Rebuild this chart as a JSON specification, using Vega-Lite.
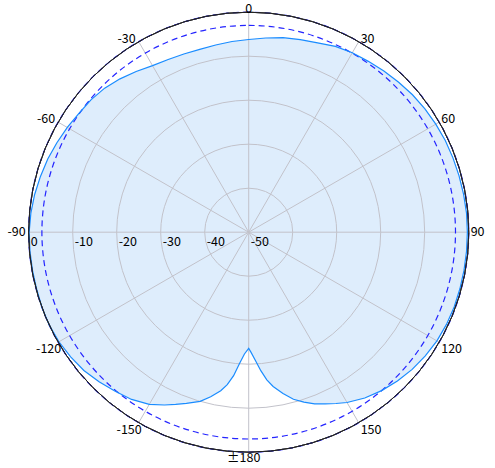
{
  "$schema": "https://vega.github.io/schema/vega-lite/v6.json",
  "width": 440,
  "height": 440,
  "autosize": "none",
  "padding": {"left": 28.7, "top": 12.2, "right": 26, "bottom": 16},
  "background": "white",
  "config": {
    "view": {"stroke": null},
    "text": {"font": "Noto Sans CJK JP", "fontSize": 12.5, "color": "#000000"}
  },
  "datasets": {
    "pattern": [
      {"a": -180, "g": -23.6}, {"a": -178, "g": -22.3}, {"a": -176, "g": -20.1},
      {"a": -174, "g": -17.2}, {"a": -172, "g": -15.0}, {"a": -170, "g": -13.4},
      {"a": -167, "g": -11.6}, {"a": -164, "g": -10.0}, {"a": -160, "g": -8.6},
      {"a": -157, "g": -7.5}, {"a": -154, "g": -6.3}, {"a": -150, "g": -4.8},
      {"a": -145, "g": -3.6}, {"a": -140, "g": -2.8}, {"a": -135, "g": -1.9},
      {"a": -130, "g": -1.1}, {"a": -125, "g": -0.6}, {"a": -120, "g": -0.2},
      {"a": -115, "g": 0.0}, {"a": -110, "g": 0.0}, {"a": -105, "g": -0.1},
      {"a": -100, "g": -0.1}, {"a": -95, "g": -0.1}, {"a": -90, "g": -0.1},
      {"a": -85, "g": -0.3}, {"a": -80, "g": -0.6}, {"a": -75, "g": -1.0},
      {"a": -70, "g": -1.4}, {"a": -65, "g": -1.9}, {"a": -60, "g": -2.4},
      {"a": -55, "g": -2.9}, {"a": -50, "g": -3.2}, {"a": -45, "g": -3.7},
      {"a": -40, "g": -4.5}, {"a": -35, "g": -5.4}, {"a": -30, "g": -6.3},
      {"a": -25, "g": -6.7}, {"a": -20, "g": -6.9}, {"a": -15, "g": -7.0},
      {"a": -10, "g": -6.8}, {"a": -5, "g": -6.5}, {"a": 0, "g": -6.2},
      {"a": 5, "g": -5.7}, {"a": 10, "g": -5.1}, {"a": 15, "g": -4.7},
      {"a": 20, "g": -4.2}, {"a": 25, "g": -3.4}, {"a": 30, "g": -2.9},
      {"a": 35, "g": -2.6}, {"a": 40, "g": -2.2}, {"a": 45, "g": -1.8},
      {"a": 50, "g": -1.4}, {"a": 55, "g": -1.1}, {"a": 60, "g": -0.9},
      {"a": 65, "g": -0.7}, {"a": 70, "g": -0.6}, {"a": 75, "g": -0.5},
      {"a": 80, "g": -0.4}, {"a": 85, "g": -0.3}, {"a": 90, "g": -0.3},
      {"a": 95, "g": -0.3}, {"a": 100, "g": -0.3}, {"a": 105, "g": -0.3},
      {"a": 110, "g": -0.3}, {"a": 115, "g": -0.4}, {"a": 120, "g": -0.6},
      {"a": 125, "g": -1.0}, {"a": 130, "g": -1.5}, {"a": 135, "g": -2.2},
      {"a": 140, "g": -3.0}, {"a": 145, "g": -4.0}, {"a": 150, "g": -5.3},
      {"a": 153, "g": -6.3}, {"a": 156, "g": -7.3}, {"a": 159, "g": -8.2},
      {"a": 162, "g": -9.4}, {"a": 165, "g": -10.7}, {"a": 168, "g": -12.5},
      {"a": 171, "g": -14.5}, {"a": 173, "g": -16.2}, {"a": 175, "g": -18.4},
      {"a": 177, "g": -20.8}, {"a": 179, "g": -22.8}
    ],
    "angles": [
      {"a": 0, "t": "0"}, {"a": 30, "t": "30"}, {"a": 60, "t": "60"},
      {"a": 90, "t": "90"}, {"a": 120, "t": "120"}, {"a": 150, "t": "150"},
      {"a": 180, "t": "±180"}, {"a": -150, "t": "-150"}, {"a": -120, "t": "-120"},
      {"a": -90, "t": "-90"}, {"a": -60, "t": "-60"}, {"a": -30, "t": "-30"}
    ]
  },
  "layer": [
    {
      "data": {"name": "pattern"},
      "transform": [
        {"calculate": "(datum.g + 50) * sin(datum.a * PI / 180)", "as": "px"},
        {"calculate": "(datum.g + 50) * cos(datum.a * PI / 180)", "as": "py"}
      ],
      "mark": {"type": "line", "interpolate": "linear-closed", "fill": "#deedfc", "strokeWidth": 0},
      "encoding": {
        "x": {"field": "px", "type": "quantitative", "scale": {"domain": [-50, 50]}, "axis": null},
        "y": {"field": "py", "type": "quantitative", "scale": {"domain": [-50, 50]}, "axis": null},
        "order": {"field": "a", "type": "quantitative"}
      }
    },
    {
      "data": {"values": [{"v": -40}, {"v": -30}, {"v": -20}, {"v": -10}]},
      "mark": {"type": "arc", "theta": 6.2832, "filled": false, "color": "#c2c2ca", "stroke": "#c2c2ca", "strokeWidth": 1},
      "encoding": {
        "radius": {"field": "v", "type": "quantitative", "stack": null, "scale": {"type": "linear", "domain": [-50, 0], "range": [0, 220], "zero": false}}
      }
    },
    {
      "data": {"values": [{"a": 0}, {"a": 30}, {"a": 60}, {"a": 90}, {"a": 120}, {"a": 150}]},
      "transform": [
        {"calculate": "50 * sin(datum.a * PI / 180)", "as": "sx"},
        {"calculate": "50 * cos(datum.a * PI / 180)", "as": "sy"},
        {"calculate": "-datum.sx", "as": "nx"},
        {"calculate": "-datum.sy", "as": "ny"}
      ],
      "mark": {"type": "rule", "stroke": "#c2c2ca", "strokeWidth": 1},
      "encoding": {
        "x": {"field": "nx", "type": "quantitative", "scale": {"domain": [-50, 50]}, "axis": null},
        "y": {"field": "ny", "type": "quantitative", "scale": {"domain": [-50, 50]}, "axis": null},
        "x2": {"field": "sx"},
        "y2": {"field": "sy"}
      }
    },
    {
      "data": {"values": [{"v": -3}]},
      "mark": {"type": "arc", "theta": 6.2832, "filled": false, "color": "#2424ff", "stroke": "#2424ff", "strokeWidth": 1.2, "strokeDash": [6, 4]},
      "encoding": {
        "radius": {"field": "v", "type": "quantitative", "stack": null, "scale": {"type": "linear", "domain": [-50, 0], "range": [0, 220], "zero": false}}
      }
    },
    {
      "data": {"name": "pattern"},
      "transform": [
        {"calculate": "(datum.g + 50) * sin(datum.a * PI / 180)", "as": "px"},
        {"calculate": "(datum.g + 50) * cos(datum.a * PI / 180)", "as": "py"}
      ],
      "mark": {"type": "line", "interpolate": "linear-closed", "stroke": "#1a8cff", "strokeWidth": 1.2},
      "encoding": {
        "x": {"field": "px", "type": "quantitative", "scale": {"domain": [-50, 50]}, "axis": null},
        "y": {"field": "py", "type": "quantitative", "scale": {"domain": [-50, 50]}, "axis": null},
        "order": {"field": "a", "type": "quantitative"}
      }
    },
    {
      "data": {"values": [{"v": 0}]},
      "mark": {"type": "arc", "theta": 6.2832, "filled": false, "color": "#222222", "stroke": "#222222", "strokeWidth": 1},
      "encoding": {
        "radius": {"field": "v", "type": "quantitative", "stack": null, "scale": {"type": "linear", "domain": [-50, 0], "range": [0, 220], "zero": false}}
      }
    },
    {
      "data": {"values": [
        {"v": 0, "t": "0"}, {"v": -10, "t": "-10"}, {"v": -20, "t": "-20"},
        {"v": -30, "t": "-30"}, {"v": -40, "t": "-40"}, {"v": -50, "t": "-50"}
      ]},
      "transform": [
        {"calculate": "-(datum.v + 50)", "as": "rx"},
        {"calculate": "0", "as": "ry"}
      ],
      "mark": {"type": "text", "align": "left", "baseline": "top", "dx": 2, "dy": 4},
      "encoding": {
        "x": {"field": "rx", "type": "quantitative", "scale": {"domain": [-50, 50]}, "axis": null},
        "y": {"field": "ry", "type": "quantitative", "scale": {"domain": [-50, 50]}, "axis": null},
        "text": {"field": "t"}
      }
    },
    {
      "data": {"name": "angles"},
      "transform": [
        {"filter": "datum.a == 0"},
        {"calculate": "50 * sin(datum.a * PI / 180)", "as": "lx"},
        {"calculate": "50 * cos(datum.a * PI / 180)", "as": "ly"}
      ],
      "mark": {"type": "text", "align": "center", "baseline": "alphabetic", "dy": 1},
      "encoding": {
        "x": {"field": "lx", "type": "quantitative", "scale": {"domain": [-50, 50]}, "axis": null},
        "y": {"field": "ly", "type": "quantitative", "scale": {"domain": [-50, 50]}, "axis": null},
        "text": {"field": "t"}
      }
    },
    {
      "data": {"name": "angles"},
      "transform": [
        {"filter": "datum.a == 30 || datum.a == 60"},
        {"calculate": "50 * sin(datum.a * PI / 180)", "as": "lx"},
        {"calculate": "50 * cos(datum.a * PI / 180)", "as": "ly"}
      ],
      "mark": {"type": "text", "align": "left", "baseline": "alphabetic", "dx": 2, "dy": 1},
      "encoding": {
        "x": {"field": "lx", "type": "quantitative", "scale": {"domain": [-50, 50]}, "axis": null},
        "y": {"field": "ly", "type": "quantitative", "scale": {"domain": [-50, 50]}, "axis": null},
        "text": {"field": "t"}
      }
    },
    {
      "data": {"name": "angles"},
      "transform": [
        {"filter": "datum.a == -30 || datum.a == -60"},
        {"calculate": "50 * sin(datum.a * PI / 180)", "as": "lx"},
        {"calculate": "50 * cos(datum.a * PI / 180)", "as": "ly"}
      ],
      "mark": {"type": "text", "align": "right", "baseline": "alphabetic", "dx": -3, "dy": 1},
      "encoding": {
        "x": {"field": "lx", "type": "quantitative", "scale": {"domain": [-50, 50]}, "axis": null},
        "y": {"field": "ly", "type": "quantitative", "scale": {"domain": [-50, 50]}, "axis": null},
        "text": {"field": "t"}
      }
    },
    {
      "data": {"name": "angles"},
      "transform": [
        {"filter": "datum.a == 90"},
        {"calculate": "50 * sin(datum.a * PI / 180)", "as": "lx"},
        {"calculate": "50 * cos(datum.a * PI / 180)", "as": "ly"}
      ],
      "mark": {"type": "text", "align": "left", "baseline": "middle", "dx": 2, "dy": 0},
      "encoding": {
        "x": {"field": "lx", "type": "quantitative", "scale": {"domain": [-50, 50]}, "axis": null},
        "y": {"field": "ly", "type": "quantitative", "scale": {"domain": [-50, 50]}, "axis": null},
        "text": {"field": "t"}
      }
    },
    {
      "data": {"name": "angles"},
      "transform": [
        {"filter": "datum.a == -90"},
        {"calculate": "50 * sin(datum.a * PI / 180)", "as": "lx"},
        {"calculate": "50 * cos(datum.a * PI / 180)", "as": "ly"}
      ],
      "mark": {"type": "text", "align": "right", "baseline": "middle", "dx": -3, "dy": 0},
      "encoding": {
        "x": {"field": "lx", "type": "quantitative", "scale": {"domain": [-50, 50]}, "axis": null},
        "y": {"field": "ly", "type": "quantitative", "scale": {"domain": [-50, 50]}, "axis": null},
        "text": {"field": "t"}
      }
    },
    {
      "data": {"name": "angles"},
      "transform": [
        {"filter": "datum.a == 120 || datum.a == 150"},
        {"calculate": "50 * sin(datum.a * PI / 180)", "as": "lx"},
        {"calculate": "50 * cos(datum.a * PI / 180)", "as": "ly"}
      ],
      "mark": {"type": "text", "align": "left", "baseline": "top", "dx": 2, "dy": 1},
      "encoding": {
        "x": {"field": "lx", "type": "quantitative", "scale": {"domain": [-50, 50]}, "axis": null},
        "y": {"field": "ly", "type": "quantitative", "scale": {"domain": [-50, 50]}, "axis": null},
        "text": {"field": "t"}
      }
    },
    {
      "data": {"name": "angles"},
      "transform": [
        {"filter": "datum.a == -120 || datum.a == -150"},
        {"calculate": "50 * sin(datum.a * PI / 180)", "as": "lx"},
        {"calculate": "50 * cos(datum.a * PI / 180)", "as": "ly"}
      ],
      "mark": {"type": "text", "align": "right", "baseline": "top", "dx": 3, "dy": 1},
      "encoding": {
        "x": {"field": "lx", "type": "quantitative", "scale": {"domain": [-50, 50]}, "axis": null},
        "y": {"field": "ly", "type": "quantitative", "scale": {"domain": [-50, 50]}, "axis": null},
        "text": {"field": "t"}
      }
    },
    {
      "data": {"name": "angles"},
      "transform": [
        {"filter": "datum.a == 180"},
        {"calculate": "50 * sin(datum.a * PI / 180)", "as": "lx"},
        {"calculate": "50 * cos(datum.a * PI / 180)", "as": "ly"}
      ],
      "mark": {"type": "text", "align": "center", "baseline": "top", "dx": -5, "dy": 0},
      "encoding": {
        "x": {"field": "lx", "type": "quantitative", "scale": {"domain": [-50, 50]}, "axis": null},
        "y": {"field": "ly", "type": "quantitative", "scale": {"domain": [-50, 50]}, "axis": null},
        "text": {"field": "t"}
      }
    }
  ]
}
